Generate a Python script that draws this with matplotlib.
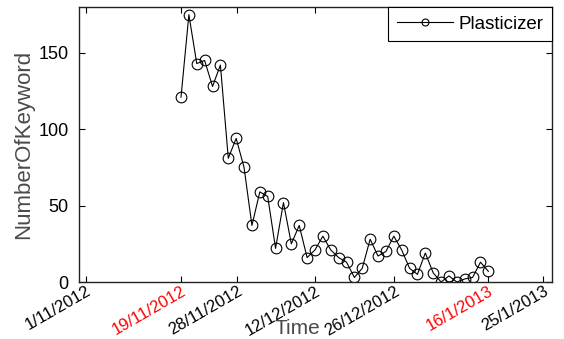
import matplotlib
matplotlib.use("Agg")
import matplotlib.pyplot as plt
import numpy as np

plt.rcParams['font.family'] = ['Liberation Sans', 'DejaVu Sans']

# one sample every ~1.5 days between 19/11/2012 and 16/1/2013
counts = [121, 175, 143, 145, 128, 142, 81, 94, 75, 37,
          59, 56, 22, 52, 25, 37, 16, 21, 30, 21,
          16, 13, 3, 9, 28, 17, 20, 30, 21, 9,
          5, 19, 6, 0, 4, 0, 2, 3, 13, 7]
series_name = 'Plasticizer'
tick_labels = ['1/11/2012', '19/11/2012', '28/11/2012', '12/12/2012',
               '26/12/2012', '16/1/2013', '25/1/2013']
tick_pos = [-12.06, 0, 7.11, 17.0, 27.07, 39, 45.98]
red_labels = ['19/11/2012', '16/1/2013']

x = np.arange(len(counts))

fig = plt.figure(figsize=(5.64, 3.39), dpi=100)
ax = fig.add_axes([0.1401, 0.1681, 0.8387, 0.8112])

ax.plot(x, counts, color='black', lw=0.8, marker='o', ms=7.7,
        mfc='none', mec='black', mew=0.8, label=series_name)

ax.set_xlim(-12.94, 47.08)
ax.set_ylim(0, 180)
ax.set_yticks([0, 50, 100, 150])
ax.set_xticks(tick_pos)

ax.tick_params(direction='in', length=4.5, width=0.8, top=True, right=True,
               colors='black')
ax.tick_params(axis='y', pad=7.5, labelsize=13)
ax.tick_params(axis='x', pad=1, labelsize=12)

ax.set_xticklabels(tick_labels, rotation=30, ha='right', va='top',
                   rotation_mode='anchor')
for lab in ax.get_xticklabels():
    if lab.get_text() in red_labels:
        lab.set_color('red')

for s in ax.spines.values():
    s.set_linewidth(1.0)
    s.set_color('#222222')

ax.set_ylabel('NumberOfKeyword', fontsize=16, color='#4a4a4a')
ax.yaxis.set_label_coords(-0.095, 0.5)
ax.set_xlabel('Time', fontsize=15, color='#4a4a4a')
ax.xaxis.set_label_coords(0.462, -0.19)
ax.xaxis.label.set_va('baseline')

leg = ax.legend(loc='upper right', borderaxespad=0, fancybox=False,
                framealpha=1, edgecolor='black', fontsize=13.5,
                handlelength=3.0, handletextpad=0.3, borderpad=0.45)
leg.get_frame().set_linewidth(0.8)
leg.legend_handles[0].set_markersize(5)

fig.savefig('out.png', dpi=100)
